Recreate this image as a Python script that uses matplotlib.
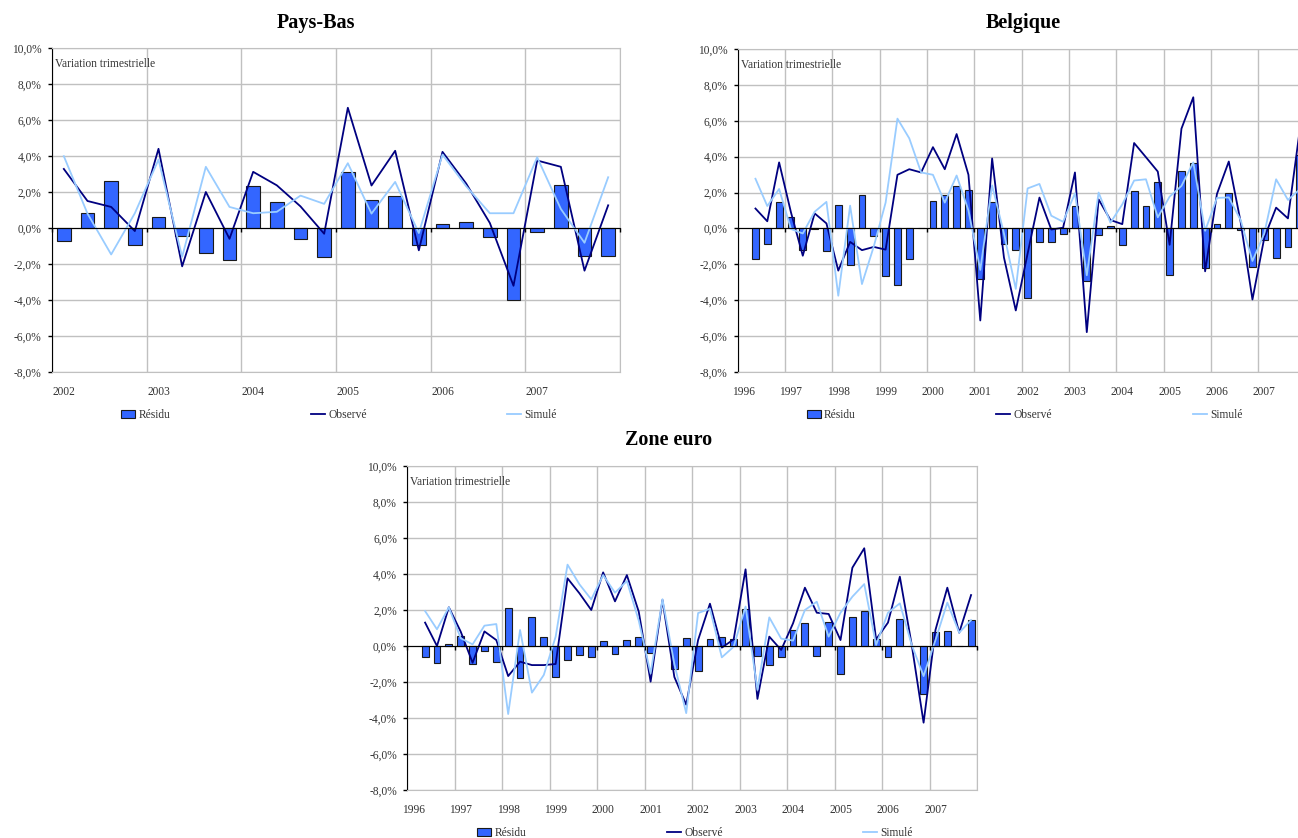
import matplotlib
matplotlib.use("Agg")
import matplotlib.pyplot as plt
import numpy as np
from matplotlib.lines import Line2D
from matplotlib.patches import Patch
from matplotlib.ticker import FuncFormatter

plt.rcParams["font.family"] = ["Liberation Serif", "DejaVu Serif"]

# --- data: quarterly variation (%) ------------------------------------------
# Pays-Bas: 2002Q1 .. 2007Q4
years_pb = [2002, 2003, 2004, 2005, 2006, 2007]
residu_pb = [-0.70, 0.83, 2.60, -0.93, 0.63, -0.45, -1.37, -1.78, 2.34, 1.47, -0.61, -1.61,
             3.10, 1.56, 1.76, -0.96, 0.20, 0.33, -0.52, -4.00, -0.20, 2.37, -1.54, -1.54]
observe_pb = [3.28, 1.50, 1.17, -0.17, 4.40, -2.13, 2.00, -0.60, 3.12, 2.37, 1.20, -0.32,
              6.68, 2.36, 4.29, -1.24, 4.23, 2.47, 0.28, -3.21, 3.75, 3.40, -2.37, 1.26]
simule_pb = [3.99, 0.80, -1.47, 0.82, 3.80, -1.60, 3.40, 1.17, 0.82, 0.90, 1.80, 1.34,
             3.60, 0.80, 2.56, -0.28, 4.08, 2.32, 0.82, 0.82, 3.93, 1.06, -0.82, 2.82]

# Belgique: 1996Q2 .. 2007Q4
years_be = list(range(1996, 2008))
residu_be = [-1.70, -0.85, 1.50, 0.64, -1.22, -0.05, -1.28, 1.32, -2.03, 1.85, -0.41, -2.65,
             -3.13, -1.68, 0.00, 1.53, 1.87, 2.34, 2.17, -2.84, 1.50, -0.88, -1.21, -3.86,
             -0.75, -0.73, -0.32, 1.25, -2.91, -0.39, 0.13, -0.90, 2.09, 1.27, 2.61, -2.57,
             3.19, 3.64, -2.22, 0.24, 2.00, -0.11, -2.13, -0.63, -1.62, -1.04, 4.10]
observe_be = [1.11, 0.40, 3.68, 0.90, -1.52, 0.84, 0.28, -2.35, -0.75, -1.21, -1.03, -1.18,
              2.99, 3.30, 3.12, 4.53, 3.30, 5.26, 2.99, -5.13, 3.90, -1.62, -4.57, -1.40,
              1.72, -0.06, 0.04, 3.12, -5.78, 1.62, 0.47, 0.24, 4.76, 3.97, 3.17, -0.91,
              5.56, 7.31, -2.39, 1.92, 3.73, 0.37, -3.96, -0.52, 1.16, 0.56, 5.50]
simule_be = [2.77, 1.25, 2.20, -0.03, -0.28, 0.93, 1.48, -3.75, 1.27, -3.10, -1.00, 1.44,
             6.12, 5.02, 3.12, 2.99, 1.44, 2.95, 1.00, -2.31, 2.40, -0.28, -3.37, 2.23,
             2.48, 0.71, 0.37, 1.96, -2.61, 2.00, 0.32, 1.34, 2.67, 2.74, 0.62, 1.77,
             2.37, 3.68, -0.13, 1.70, 1.73, 0.47, -1.81, -0.28, 2.74, 1.59, 2.18]

# Zone euro: 1996Q2 .. 2007Q4
years_ze = list(range(1996, 2008))
residu_ze = [-0.61, -0.94, 0.09, 0.56, -1.02, -0.30, -0.91, 2.09, -1.80, 1.59, 0.52, -1.70,
             -0.78, -0.52, -0.63, 0.26, -0.46, 0.31, 0.48, -0.41, 0.00, -1.30, 0.46, -1.39,
             0.37, 0.52, 0.37, 2.07, -0.57, -1.07, -0.61, 0.87, 1.26, -0.57, 1.33, -1.56,
             1.59, 1.96, 0.39, -0.61, 1.52, 0.02, -2.69, 0.76, 0.83, 0.00, 1.43]
observe_ze = [1.30, 0.00, 2.15, 0.80, -0.93, 0.81, 0.33, -1.67, -0.87, -1.06, -1.06, -1.00,
              3.76, 2.93, 2.00, 4.09, 2.48, 3.94, 1.91, -1.98, 2.56, -1.72, -3.26, 0.33,
              2.35, -0.09, 0.37, 4.26, -2.94, 0.52, -0.22, 1.26, 3.24, 1.85, 1.78, 0.33,
              4.35, 5.43, 0.37, 1.30, 3.85, 0.06, -4.26, 0.89, 3.24, 0.74, 2.83]
simule_ze = [1.94, 0.93, 2.15, 0.43, 0.09, 1.13, 1.22, -3.78, 0.89, -2.59, -1.61, 0.52,
             4.52, 3.43, 2.59, 3.94, 2.96, 3.61, 1.41, -1.52, 2.60, -1.00, -3.73, 1.83,
             2.07, -0.63, -0.04, 2.19, -2.44, 1.59, 0.41, 0.30, 2.00, 2.46, 0.52, 1.85,
             2.74, 3.44, 0.06, 1.85, 2.37, 0.06, -1.67, 0.33, 2.41, 0.74, 1.44]

labels = ["Résidu", "Observé", "Simulé"]

BAR = "#3366FF"
EDGE = "#1a1a1a"
OBS = "#000080"
SIM = "#99CCFF"
GRID = "#C0C0C0"
W, H = 1298, 838


def pct(v, _):
    return f"{v:.1f}%".replace(".", ",")


def px_rect(left, top, right, bottom):
    return [left / W, 1 - bottom / H, (right - left) / W, (bottom - top) / H]


def panel(fig, rect, title, title_x, title_y, years, first_q, residu, observe, simule):
    ax = fig.add_axes(rect)
    nq = 4 * len(years)
    x = np.arange(len(residu)) + first_q + 0.5
    ax.bar(x, residu, width=0.58, color=BAR, edgecolor=EDGE, linewidth=0.8, zorder=2)
    ax.plot(x, observe, color=OBS, lw=1.3, zorder=3)
    ax.plot(x, simule, color=SIM, lw=1.3, zorder=4)

    ax.set_xlim(0, nq)
    ax.set_ylim(-8, 10)
    ax.set_yticks(np.arange(-8, 11, 2))
    ax.yaxis.set_major_formatter(FuncFormatter(pct))
    ax.set_xticks(np.arange(0, nq, 4) + 0.5, [str(y) for y in years])
    ax.set_xticks(np.arange(0, nq + 1, 4), minor=True)
    ax.tick_params(axis="x", which="both", length=0, pad=10, labelsize=8.3, colors="#333333")
    ax.tick_params(axis="y", length=3, width=1, pad=4.5, labelsize=8.3, colors="black",
                   labelcolor="#333333")
    ax.grid(axis="y", which="major", color=GRID, lw=1)
    ax.grid(axis="x", which="minor", color=GRID, lw=1)
    ax.set_axisbelow(True)
    for side in ("top", "right", "bottom"):
        ax.spines[side].set_color(GRID)
    ax.spines["left"].set_color("black")

    # zero line with year ticks
    zero = ax.secondary_xaxis(8 / 18)
    zero.set_xticks(np.arange(0, nq + 1, 4))
    zero.tick_params(length=3, width=1, labelbottom=False, labeltop=False, color="black")
    zero.spines["bottom"].set_color("black")
    zero.set_zorder(5)

    ax.annotate("Variation trimestrielle", xy=(0, 1), xycoords="axes fraction",
                xytext=(3, -16), textcoords="offset pixels", va="center", ha="left",
                fontsize=8.3, color="#333333")

    fig.text(title_x / W, 1 - title_y / H, title, ha="center", va="center",
             fontsize=14.5, fontweight="bold")

    handles = [Patch(facecolor=BAR, edgecolor=EDGE, linewidth=0.8),
               Line2D([], [], color=OBS, lw=1.3),
               Line2D([], [], color=SIM, lw=1.3)]
    ax.legend(handles, labels, loc="center", bbox_to_anchor=(0.5 + 3 / 568, -43 / 324), ncol=3,
              frameon=False, fontsize=8.3, handlelength=1.2, handletextpad=0.3,
              columnspacing=12.2, labelcolor="#333333")
    return ax


fig = plt.figure(figsize=(W / 100, H / 100), dpi=100)
panel(fig, px_rect(52, 48, 620, 372), "Pays-Bas", 316, 23, years_pb, 0,
      residu_pb, observe_pb, simule_pb)
panel(fig, px_rect(737.7, 49, 1305.7, 372), "Belgique", 1023, 23, years_be, 1,
      residu_be, observe_be, simule_be)
panel(fig, px_rect(407.3, 466, 977, 790), "Zone euro", 669, 440, years_ze, 1,
      residu_ze, observe_ze, simule_ze)

fig.savefig("out.png", dpi=100)
